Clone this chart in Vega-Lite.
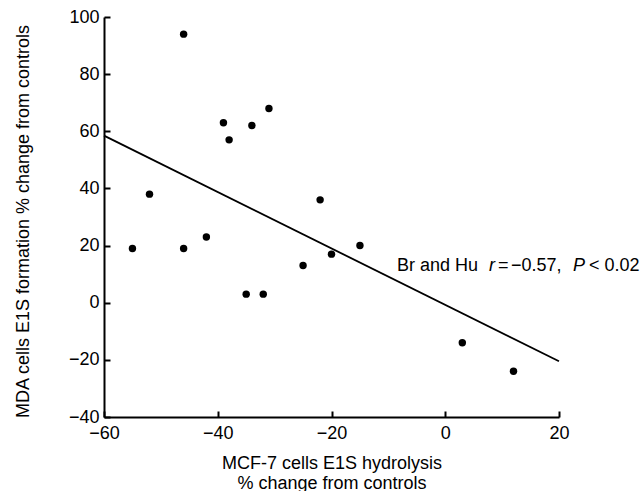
{
  "$schema": "https://vega.github.io/schema/vega-lite/v6.json",
  "autosize": {"type": "none"},
  "padding": {"left": 104, "top": 17, "right": 85, "bottom": 74},
  "width": 455,
  "height": 400,
  "background": "white",
  "config": {
    "view": {"stroke": null},
    "font": "Liberation Sans",
    "axis": {
      "grid": false,
      "domainColor": "black",
      "domainWidth": 2,
      "tickColor": "black",
      "tickWidth": 2,
      "tickSize": -6,
      "labelFlush": false,
      "labelFont": "Liberation Sans",
      "labelFontSize": 18,
      "labelColor": "black",
      "titleFont": "Liberation Sans",
      "titleFontSize": 18,
      "titleFontWeight": "normal",
      "titleColor": "black"
    }
  },
  "datasets": {
    "points": [
      {"x": -46, "y": 94},
      {"x": -39, "y": 63},
      {"x": -38, "y": 57},
      {"x": -34, "y": 62},
      {"x": -31, "y": 68},
      {"x": -52, "y": 38},
      {"x": -22, "y": 36},
      {"x": -55, "y": 19},
      {"x": -46, "y": 19},
      {"x": -42, "y": 23},
      {"x": -35, "y": 3},
      {"x": -32, "y": 3},
      {"x": -25, "y": 13},
      {"x": -20, "y": 17},
      {"x": -15, "y": 20},
      {"x": 3, "y": -14},
      {"x": 12, "y": -24}
    ],
    "fit": [
      {"x": -60, "y": 58.5},
      {"x": 20, "y": -20.5}
    ],
    "note": [
      {"x": -8.5, "y": 11.2}
    ]
  },
  "encoding": {
    "x": {
      "field": "x", "type": "quantitative",
      "scale": {"domain": [-60, 20], "nice": false, "zero": false},
      "axis": {
        "values": [-60, -40, -20, 0, 20],
        "labelPadding": 13,
        "title": ["MCF-7 cells E1S hydrolysis", "% change from controls"],
        "titleLineHeight": 20,
        "titlePadding": 12
      }
    },
    "y": {
      "field": "y", "type": "quantitative",
      "scale": {"domain": [-40, 100], "nice": false, "zero": false},
      "axis": {
        "values": [-40, -20, 0, 20, 40, 60, 80, 100],
        "labelPadding": 11,
        "title": "MDA cells E1S formation % change from controls",
        "titleX": -81,
        "titleY": 204,
        "titleAngle": -90,
        "titleBaseline": "middle",
        "titleAlign": "center"
      }
    }
  },
  "layer": [
    {
      "data": {"name": "fit"},
      "mark": {"type": "line", "color": "black", "strokeWidth": 1.8}
    },
    {
      "data": {"name": "points"},
      "mark": {"type": "point", "filled": true, "shape": "circle", "color": "black", "size": 55, "opacity": 1}
    },
    {
      "data": {"name": "note"},
      "mark": {"type": "text", "text": "Br and Hu", "align": "left", "baseline": "alphabetic", "fontSize": 18, "color": "black", "dx": 0}
    },
    {
      "data": {"name": "note"},
      "mark": {"type": "text", "text": "r", "fontStyle": "italic", "align": "left", "baseline": "alphabetic", "fontSize": 18, "color": "black", "dx": 92}
    },
    {
      "data": {"name": "note"},
      "mark": {"type": "text", "text": "=", "align": "left", "baseline": "alphabetic", "fontSize": 18, "color": "black", "dx": 101}
    },
    {
      "data": {"name": "note"},
      "mark": {"type": "text", "text": "−0.57,", "align": "left", "baseline": "alphabetic", "fontSize": 18, "color": "black", "dx": 114}
    },
    {
      "data": {"name": "note"},
      "mark": {"type": "text", "text": "P", "fontStyle": "italic", "align": "left", "baseline": "alphabetic", "fontSize": 18, "color": "black", "dx": 176}
    },
    {
      "data": {"name": "note"},
      "mark": {"type": "text", "text": "< 0.02", "align": "left", "baseline": "alphabetic", "fontSize": 18, "color": "black", "dx": 192}
    }
  ]
}
